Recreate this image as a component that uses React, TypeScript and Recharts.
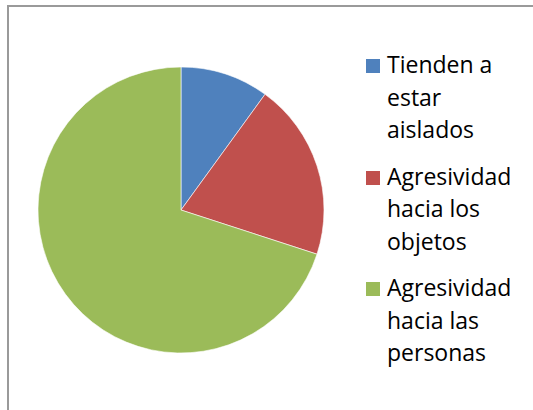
import { PieChart, Pie, Cell, Legend } from 'recharts';

const categories = ['Tienden a estar aislados', 'Agresividad hacia los objetos', 'Agresividad hacia las personas'];
const values = [10, 20, 70];
const colors = ['#4F81BD', '#C0504D', '#9BBB59'];

const data = categories.map((name, i) => ({ name, value: values[i] }));

const renderLegend = () => (
  <div style={{ fontFamily: '"Open Sans", sans-serif', fontSize: 23, lineHeight: '32.5px', color: '#000' }}>
    {categories.map((name, i) => (
      <div key={name} style={{ display: 'flex', alignItems: 'flex-start', marginBottom: 14 }}>
        <div
          style={{
            width: 14,
            height: 14,
            marginTop: 11,
            marginRight: 7,
            flexShrink: 0,
            background: colors[i],
          }}
        />
        <div style={{ width: 132 }}>{name}</div>
      </div>
    ))}
  </div>
);

export default function App() {
  return (
    <div
      style={{
        position: 'absolute',
        left: 7,
        top: 5,
        width: 560,
        height: 430,
        border: '2px solid #9a9a9a',
        background: '#fff',
      }}
    >
      <PieChart width={526} height={405} margin={{ top: 0, right: 0, bottom: 0, left: 0 }}>
        <Pie
          data={data}
          dataKey="value"
          nameKey="name"
          cx={172}
          cy={203}
          outerRadius={143}
          startAngle={90}
          endAngle={-270}
          stroke="#ffffff"
          strokeWidth={0.6}
          isAnimationActive={false}
        >
          {data.map((d, i) => (
            <Cell key={d.name} fill={colors[i]} />
          ))}
        </Pie>
        <Legend
          content={renderLegend}
          wrapperStyle={{ left: 357, top: 41, width: 170 }}
        />
      </PieChart>
    </div>
  );
}
